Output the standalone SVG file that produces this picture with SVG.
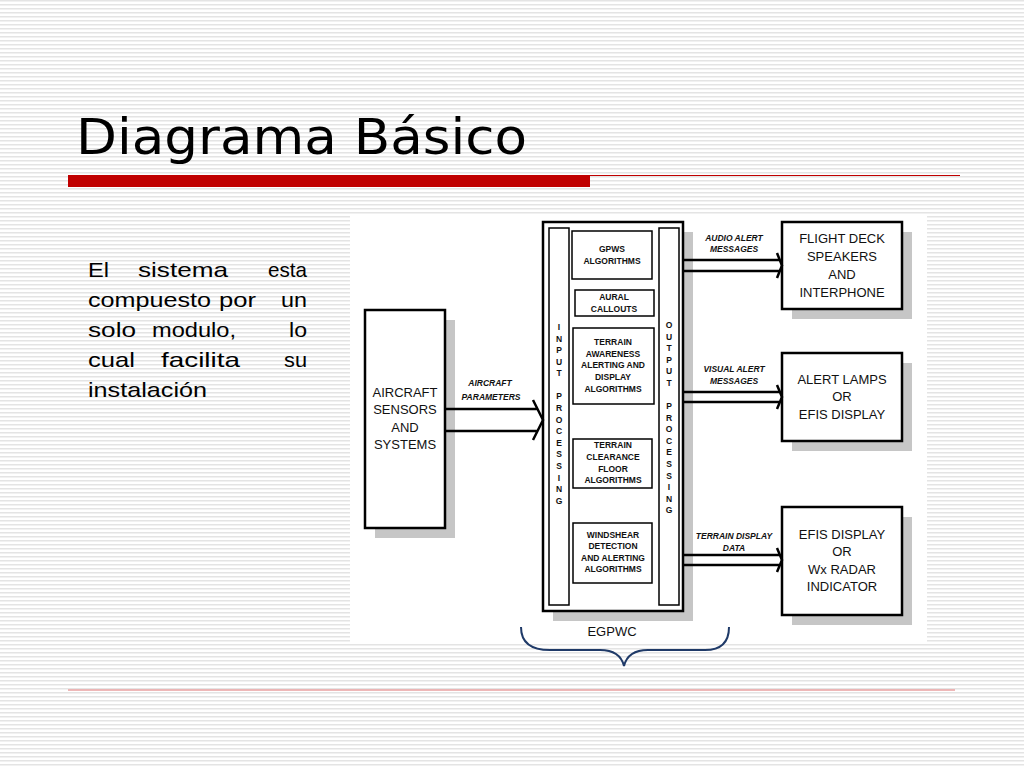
<svg xmlns="http://www.w3.org/2000/svg" width="1024" height="768" viewBox="0 0 1024 768">
<defs>
<pattern id="stripes" width="8" height="4" patternUnits="userSpaceOnUse"><rect width="8" height="4" fill="#ffffff"/><rect width="8" height="1.5" fill="#e4e4e4"/></pattern>
</defs>
<style>
.b{fill:#fff;stroke:#000;stroke-width:2.5}
.t{fill:#fff;stroke:#000;stroke-width:1.5}
.sh{fill:#c6c6c6}
.big{font-family:"Liberation Sans",Arial,sans-serif;font-size:13px;text-anchor:middle;fill:#111}
.sm{font-family:"Liberation Sans",Arial,sans-serif;font-size:8.5px;font-weight:bold;text-anchor:middle;fill:#111}
.it{font-family:"Liberation Sans",Arial,sans-serif;font-size:8.5px;font-weight:bold;font-style:italic;text-anchor:middle;fill:#111}
.p{font-family:"Liberation Sans",Arial,sans-serif;font-size:21px;fill:#000}
.ln{fill:none;stroke:#000;stroke-width:2.5}
</style>
<rect width="1024" height="768" fill="url(#stripes)"/>
<text x="76" y="154" font-family="'DejaVu Sans',sans-serif" font-size="50" textLength="451" lengthAdjust="spacingAndGlyphs" fill="#000">Diagrama Básico</text>
<rect x="68" y="175" width="522" height="12" fill="#c00000"/>
<line x1="590" y1="175.5" x2="960" y2="175.5" stroke="#c00000" stroke-width="1"/>
<line x1="68" y1="690" x2="955" y2="690" stroke="#e8a0a0" stroke-width="1.5"/>
<g class="p">
<text x="88" y="277" textLength="21" lengthAdjust="spacingAndGlyphs">El</text><text x="138" y="277" textLength="90" lengthAdjust="spacingAndGlyphs">sistema</text><text x="268" y="277" textLength="39" lengthAdjust="spacingAndGlyphs">esta</text>
<text x="88" y="307" textLength="123" lengthAdjust="spacingAndGlyphs">compuesto</text><text x="219" y="307" textLength="37" lengthAdjust="spacingAndGlyphs">por</text><text x="281" y="307" textLength="26" lengthAdjust="spacingAndGlyphs">un</text>
<text x="88" y="337" textLength="48" lengthAdjust="spacingAndGlyphs">solo</text><text x="152" y="337" textLength="84" lengthAdjust="spacingAndGlyphs">modulo,</text><text x="289" y="337" textLength="18" lengthAdjust="spacingAndGlyphs">lo</text>
<text x="88" y="367" textLength="47" lengthAdjust="spacingAndGlyphs">cual</text><text x="161" y="367" textLength="79" lengthAdjust="spacingAndGlyphs">facilita</text><text x="284" y="367" textLength="23" lengthAdjust="spacingAndGlyphs">su</text>
<text x="88" y="397" textLength="119" lengthAdjust="spacingAndGlyphs">instalación</text>
</g>
<rect x="350" y="214" width="577" height="430" fill="#fff"/>
<g id="aircraft"><rect class="sh" x="375" y="320" width="80" height="218"/><rect class="b" x="365" y="310" width="80" height="218"/>
<text class="big" x="405" y="397">AIRCRAFT</text><text class="big" x="405" y="414">SENSORS</text><text class="big" x="405" y="432">AND</text><text class="big" x="405" y="449">SYSTEMS</text></g>
<g id="egpwc"><rect class="sh" x="553" y="232" width="140" height="389"/><rect class="b" x="543" y="222" width="140" height="389"/>
<rect class="t" x="549" y="228" width="20" height="377"/><rect class="t" x="659" y="228" width="20" height="377"/>
<text class="sm"><tspan x="559" y="330">I</tspan><tspan x="559" dy="11.6">N</tspan><tspan x="559" dy="11.6">P</tspan><tspan x="559" dy="11.6">U</tspan><tspan x="559" dy="11.6">T</tspan><tspan x="559" dy="23">P</tspan><tspan x="559" dy="11.6">R</tspan><tspan x="559" dy="11.6">O</tspan><tspan x="559" dy="11.6">C</tspan><tspan x="559" dy="11.6">E</tspan><tspan x="559" dy="11.6">S</tspan><tspan x="559" dy="11.6">S</tspan><tspan x="559" dy="11.6">I</tspan><tspan x="559" dy="11.6">N</tspan><tspan x="559" dy="11.6">G</tspan></text>
<text class="sm"><tspan x="669" y="328">O</tspan><tspan x="669" dy="11.6">U</tspan><tspan x="669" dy="11.6">T</tspan><tspan x="669" dy="11.6">P</tspan><tspan x="669" dy="11.6">U</tspan><tspan x="669" dy="11.6">T</tspan><tspan x="669" dy="23">P</tspan><tspan x="669" dy="11.6">R</tspan><tspan x="669" dy="11.6">O</tspan><tspan x="669" dy="11.6">C</tspan><tspan x="669" dy="11.6">E</tspan><tspan x="669" dy="11.6">S</tspan><tspan x="669" dy="11.6">S</tspan><tspan x="669" dy="11.6">I</tspan><tspan x="669" dy="11.6">N</tspan><tspan x="669" dy="11.6">G</tspan></text>
</g>
<g id="gpws"><rect class="t" x="572" y="231" width="80" height="48"/><text class="sm" x="612" y="252">GPWS</text><text class="sm" x="612" y="264">ALGORITHMS</text></g>
<g id="aural"><rect class="t" x="575" y="290" width="79" height="26"/><text class="sm" x="614" y="300">AURAL</text><text class="sm" x="614" y="312">CALLOUTS</text></g>
<g id="taad"><rect class="t" x="573" y="328" width="81" height="76"/><text class="sm" x="613" y="345">TERRAIN</text><text class="sm" x="613" y="357">AWARENESS</text><text class="sm" x="613" y="368">ALERTING AND</text><text class="sm" x="613" y="380">DISPLAY</text><text class="sm" x="613" y="392">ALGORITHMS</text></g>
<g id="tcf"><rect class="t" x="573" y="439" width="79" height="49"/><text class="sm" x="613" y="448">TERRAIN</text><text class="sm" x="613" y="460">CLEARANCE</text><text class="sm" x="613" y="472">FLOOR</text><text class="sm" x="613" y="483">ALGORITHMS</text></g>
<g id="wind"><rect class="t" x="573" y="523" width="79" height="60"/><text class="sm" x="613" y="538">WINDSHEAR</text><text class="sm" x="613" y="549">DETECTION</text><text class="sm" x="613" y="561">AND ALERTING</text><text class="sm" x="613" y="572">ALGORITHMS</text></g>
<g id="flight"><rect class="sh" x="792" y="232" width="120" height="87"/><rect class="b" x="782" y="222" width="120" height="87"/>
<text class="big" x="842" y="243">FLIGHT DECK</text><text class="big" x="842" y="261">SPEAKERS</text><text class="big" x="842" y="279">AND</text><text class="big" x="842" y="297">INTERPHONE</text></g>
<g id="lamps"><rect class="sh" x="792" y="363" width="120" height="88"/><rect class="b" x="782" y="353" width="120" height="88"/>
<text class="big" x="842" y="384">ALERT LAMPS</text><text class="big" x="842" y="401">OR</text><text class="big" x="842" y="419">EFIS DISPLAY</text></g>
<g id="efis"><rect class="sh" x="792" y="517" width="120" height="108"/><rect class="b" x="782" y="507" width="120" height="108"/>
<text class="big" x="842" y="539">EFIS DISPLAY</text><text class="big" x="842" y="556">OR</text><text class="big" x="842" y="574">Wx RADAR</text><text class="big" x="842" y="591">INDICATOR</text></g>
<g id="connectors">
<path class="ln" d="M445 409H538M445 431H538M533 400L543 420L533 440"/>
<text class="it" x="490" y="386">AIRCRAFT</text><text class="it" x="491" y="400">PARAMETERS</text>
<path class="ln" d="M683 260H779M683 271H779M777 253L782 265.5L777 278" stroke-width="2"/>
<text class="it" x="734" y="241">AUDIO  ALERT</text><text class="it" x="734" y="252">MESSAGES</text>
<path class="ln" d="M683 392H779M683 402H779M777 385L782 397L777 409" stroke-width="2"/>
<text class="it" x="734" y="372">VISUAL  ALERT</text><text class="it" x="734" y="384">MESSAGES</text>
<path class="ln" d="M683 555H779M683 565H779M777 548L782 560L777 572" stroke-width="2"/>
<text class="it" x="734" y="539">TERRAIN DISPLAY</text><text class="it" x="734" y="551">DATA</text>
<text class="big" x="612" y="636" font-size="14">EGPWC</text>
<path d="M521 627Q521 650 550 650H600Q620 650 624 666Q628 650 648 650H705Q729 650 729 627" fill="none" stroke="#1f3a68" stroke-width="2"/>
</g>
</svg>
